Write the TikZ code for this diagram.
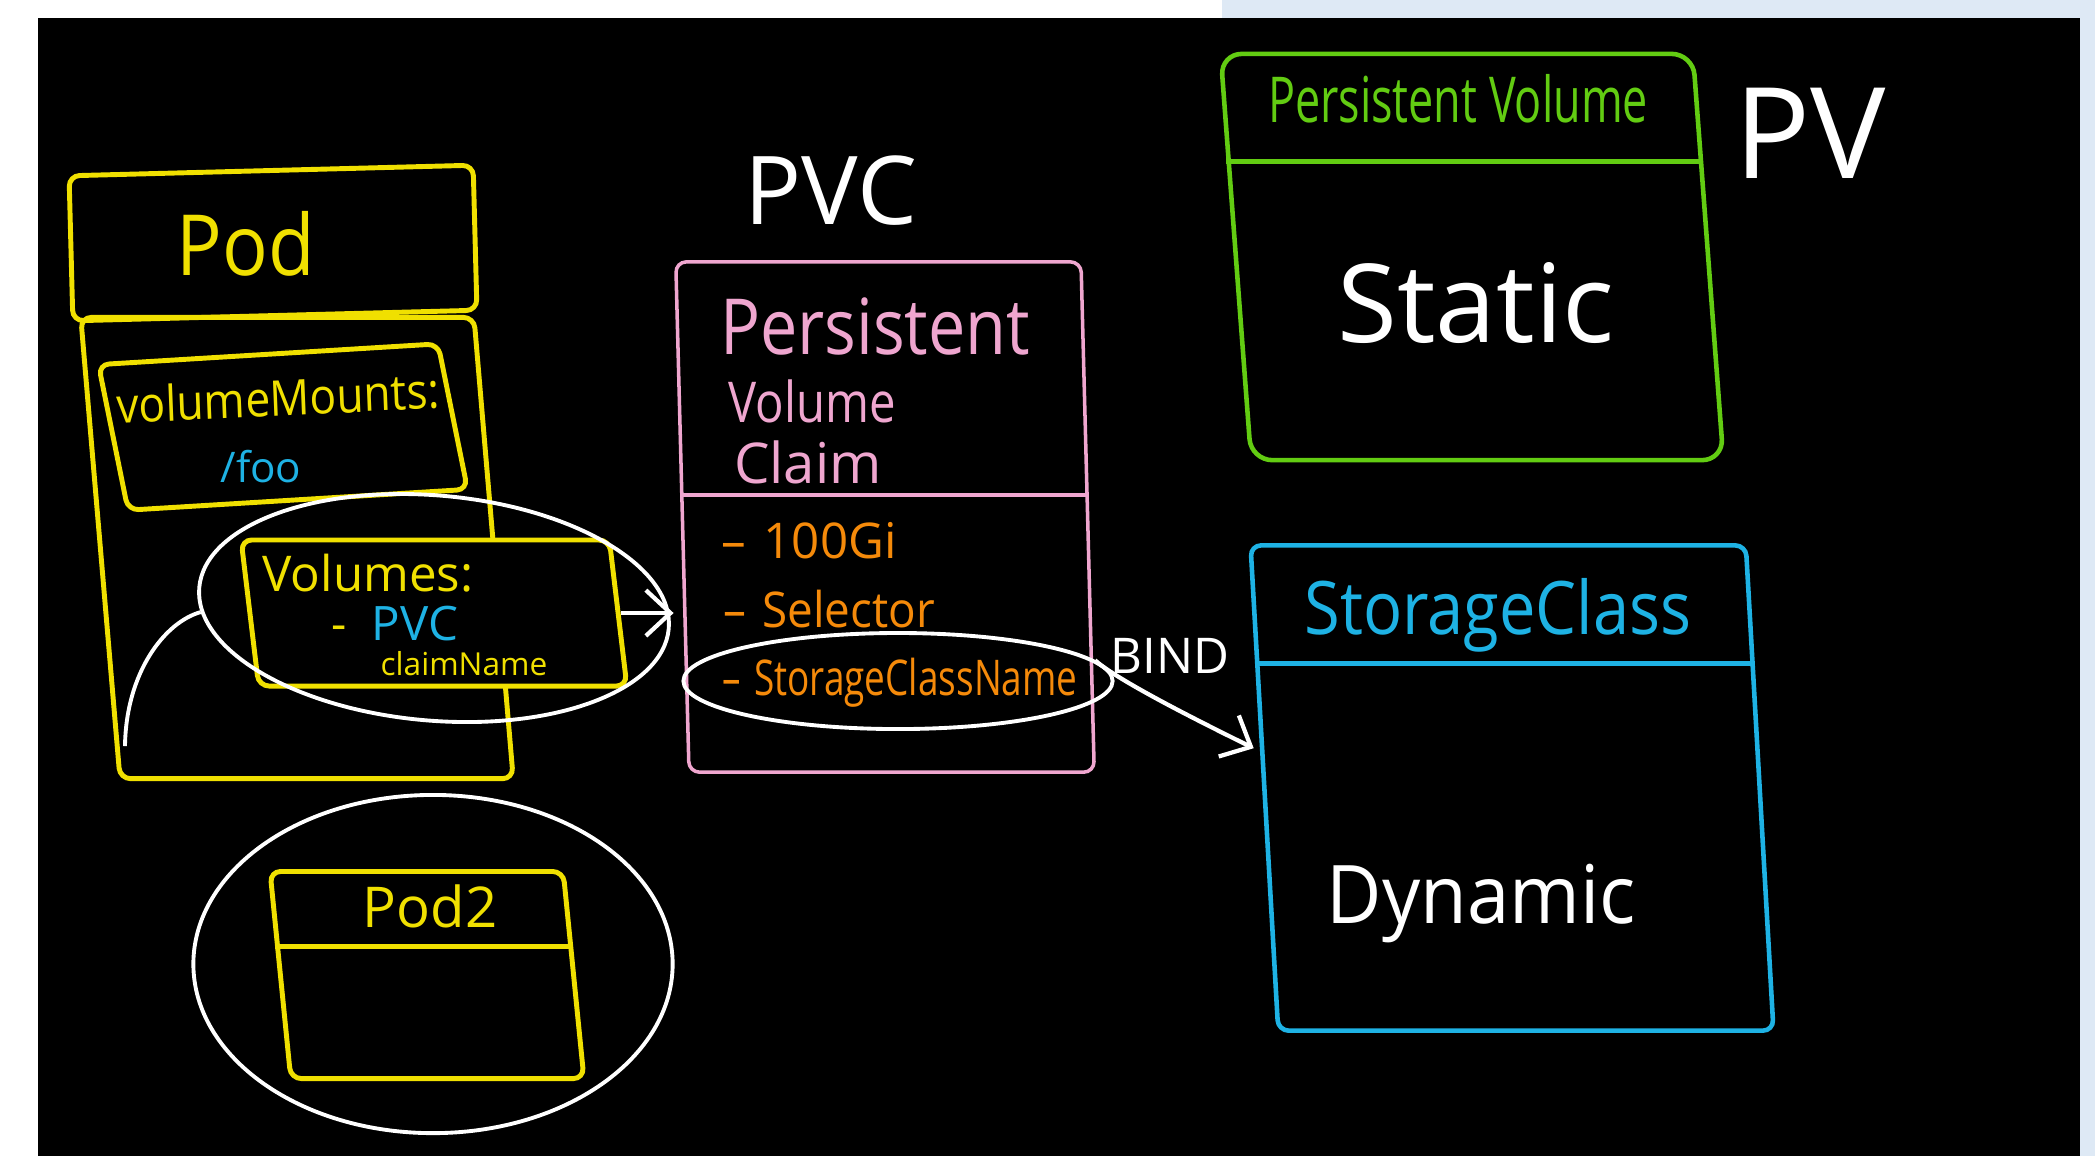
\documentclass[tikz,border=0pt]{standalone}
\usepackage{fontspec}
\setmainfont{Open Sans}
\usepackage{tikz}
\usetikzlibrary{calc,positioning,shapes.geometric,arrows.meta}
\definecolor{skyback}{HTML}{DEE9F5}
\definecolor{podyl}{HTML}{F0E000}
\definecolor{pvcpk}{HTML}{EFA6CF}
\definecolor{itemor}{HTML}{F58A0A}
\definecolor{pvgr}{HTML}{62CC12}
\definecolor{scbl}{HTML}{1EB2E4}
\newcommand{\hsz}[1]{\fontsize{#1}{#1}\selectfont}
\tikzset{
  boxyl/.style={rectangle, draw=podyl, line width=1.4pt, rounded corners=3pt, inner sep=0pt},
  boxpk/.style={rectangle, draw=pvcpk, line width=1pt, rounded corners=3pt, inner sep=0pt},
  boxgr/.style={rectangle, draw=pvgr, line width=1.3pt, rounded corners=6pt, inner sep=0pt},
  boxbl/.style={rectangle, draw=scbl, line width=1.3pt, rounded corners=3pt, inner sep=0pt},
  ring/.style={ellipse, draw=white, line width=1.1pt, inner sep=0pt},
  ink/.style={draw=white, line width=1.1pt},
  line/.style={draw=white, line width=1.2pt, ->, shorten >=2pt},
  txtyl/.style={text=podyl, inner sep=0pt, anchor=base},
  txtbl/.style={text=scbl, inner sep=0pt, anchor=base},
  txtpk/.style={text=pvcpk, inner sep=0pt, anchor=base},
  txtor/.style={text=itemor, inner sep=0pt, anchor=base},
  txtgr/.style={text=pvgr, inner sep=0pt, anchor=base},
  txtwh/.style={text=white, inner sep=0pt, anchor=base},
}
\begin{document}
\begin{tikzpicture}[x=0.01cm, y=-0.01cm, >={Straight Barb[length=7pt,width=13pt]}]
  \useasboundingbox (0,0) rectangle (2095,1156);
  % board
  \fill[white] (0,0) rectangle (2095,1156);
  \fill[skyback] (1222,0) rectangle (2095,18);
  \fill[skyback] (2080,0) rectangle (2095,1156);
  \fill[black] (38,18) rectangle (2080,1156);

  % pod
  \node[boxyl, minimum width=3.93cm, minimum height=4.61cm, xslant=-0.085] (podbody) at (297,548) {};
  \node[boxyl, minimum width=4.04cm, minimum height=1.45cm, rotate=1.5] (podhead) at (273,243) {};
  \node[boxyl, minimum width=3.40cm, minimum height=1.47cm, rotate=3.5, xslant=-0.14] (mountbox) at (283,427) {};
  \node[boxyl, fill=black, minimum width=3.68cm, minimum height=1.46cm, xslant=-0.12] (volbox) at (434,613) {};
  \node[txtyl, font=\hsz{24}, xscale=0.9] (podtitle) at (246,275) {Pod};
  \node[txtyl, font=\hsz{14}, xscale=0.9, rotate=2.5] (mounttxt) at (279,416) {volumeMounts:};
  \node[txtbl, font=\hsz{12}] (footxt) at (261,482) {/foo};
  \node[txtyl, font=\hsz{14}] (voltxt) at (368,591) {Volumes:};
  \node[txtyl, font=\hsz{13.5}] (pvcref) at (395,640) {-\hspace{7pt}\textcolor{scbl}{PVC}};
  \node[txtyl, font=\hsz{9}] (claimtxt) at (464,675) {claimName};

  % pod 2
  \node[boxyl, minimum width=2.93cm, minimum height=2.07cm, xslant=-0.1] (pod2box) at (427,975) {};
  \draw[boxyl] ($(pod2box.north west)!0.365!(pod2box.south west)$) -- ($(pod2box.north east)!0.365!(pod2box.south east)$);
  \node[txtyl, font=\hsz{16}] (pod2title) at (430,927) {Pod2};

  % claim
  \node[txtwh, font=\hsz{27}] (pvclabel) at (831,224) {PVC};
  \node[boxpk, minimum width=4.05cm, minimum height=5.10cm, xslant=-0.026] (pvcbox) at (885,517) {};
  \draw[boxpk] ($(pvcbox.north west)!0.457!(pvcbox.south west)$) -- ($(pvcbox.north east)!0.457!(pvcbox.south east)$);
  \node[txtpk, font=\hsz{22}, xscale=0.86] (pvct1) at (875,354) {Persistent};
  \node[txtpk, font=\hsz{16}, xscale=0.84] (pvct2) at (812,422) {Volume};
  \node[txtpk, font=\hsz{16}] (pvct3) at (808,483) {Claim};
  \node[txtor, font=\hsz{14}] (sizeitem) at (809,558) {--\hspace{5pt}100Gi};
  \node[txtor, font=\hsz{14}, xscale=0.93] (selitem) at (829,627) {--\hspace{5pt}Selector};
  \node[txtor, font=\hsz{14}, xscale=0.75] (scnitem) at (900,695) {--\hspace{5pt}StorageClassName};

  % volume
  \node[boxgr, minimum width=4.72cm, minimum height=4.06cm, xslant=-0.075] (pvbox) at (1472,257) {};
  \draw[boxgr] ($(pvbox.north west)!0.268!(pvbox.south west)$) -- ($(pvbox.north east)!0.268!(pvbox.south east)$);
  \node[txtgr, font=\hsz{18}, xscale=0.71] (pvtitle) at (1458,122) {Persistent Volume};
  \node[txtwh, font=\hsz{36}] (pvlabel) at (1810,178) {PV};
  \node[txtwh, font=\hsz{31}] (statictxt) at (1476,342) {Static};

  % storage class
  \node[boxbl, minimum width=4.95cm, minimum height=4.85cm, xslant=-0.057] (scbox) at (1512,788) {};
  \draw[boxbl] ($(scbox.north west)!0.246!(scbox.south west)$) -- ($(scbox.north east)!0.246!(scbox.south east)$);
  \node[txtbl, font=\hsz{21}, xscale=0.88] (sctitle) at (1498,634) {StorageClass};
  \node[txtwh, font=\hsz{23}, xscale=0.94] (dyntxt) at (1481,923) {Dynamic};

  % rings
  \node[ring, minimum width=4.71cm, minimum height=2.25cm, rotate=-5] (volring) at (434,608) {};
  \node[ring, minimum width=4.29cm, minimum height=0.96cm] (scnring) at (898,681) {};
  \node[ring, minimum width=4.79cm, minimum height=3.38cm] (podring) at (433,964) {};

  % connectors
  \coordinate (tailend) at (125,746);
  \draw[ink] (volring.186) .. controls (165,622) and (126,672) .. (tailend);
  \draw[line] (volbox.east) -- (volbox.east -| pvcbox.west);
  \coordinate (bindend) at ($(scbox.north west)!0.425!(scbox.south west)$);
  \draw[line] (scnring.6) .. controls (1115,678) and (1180,712) .. (bindend);
  \node[txtwh, font=\hsz{14}] (bindtxt) at (1170,673) {BIND};
\end{tikzpicture}
\end{document}
